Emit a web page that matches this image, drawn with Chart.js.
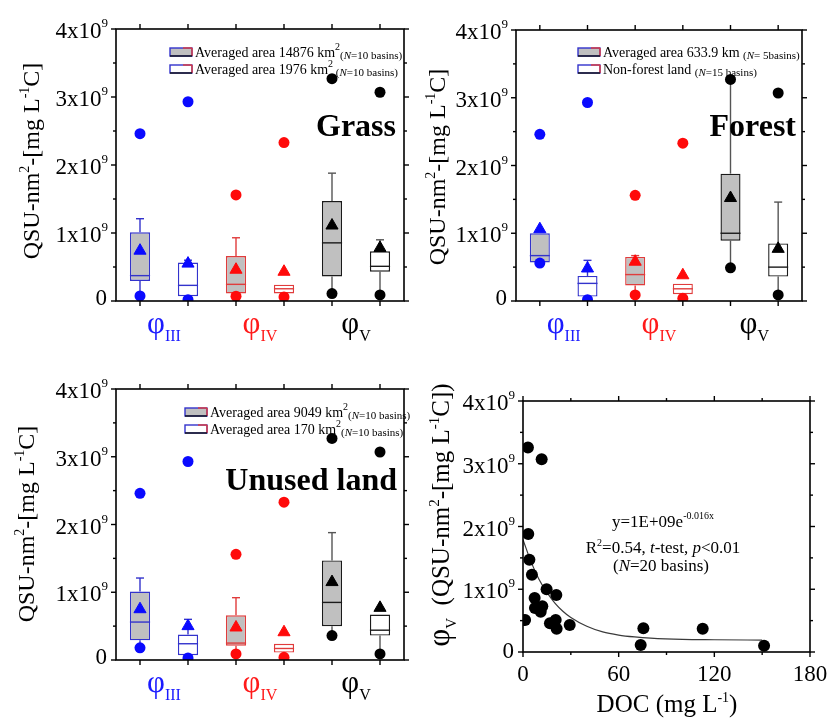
<!DOCTYPE html>
<html><head><meta charset="utf-8">
<script src="https://cdn.jsdelivr.net/npm/chart.js@4.4.0/dist/chart.umd.min.js"></script>
<style>
html,body{margin:0;padding:0;background:#fff;}
#wrap{position:relative;width:828px;height:719px;overflow:hidden;}
.p{position:absolute;}
canvas{display:block;}
</style></head><body>
<div id="wrap">
<div class="p" style="left:0;top:0"><canvas id="c1" width="414" height="350"></canvas></div>
<div class="p" style="left:414px;top:0"><canvas id="c2" width="414" height="350"></canvas></div>
<div class="p" style="left:0;top:360px"><canvas id="c3" width="414" height="359"></canvas></div>
<div class="p" style="left:414px;top:360px"><canvas id="c4" width="414" height="359"></canvas></div>
</div>
<script>
// ---------- data (values in units of 10^9 QSU-nm2-[mg L-1 C]) ----------
const slotLabels = ['φIII large', 'φIII small', 'φIV large', 'φIV small', 'φV large', 'φV small'];
const groupSubs = ['III', 'IV', 'V'];
const groupColors = ['#1a1aff', '#ff1a1a', '#000000'];
const yTickValues = [0, 1, 2, 3, 4];
const yMinorValues = [0.5, 1.5, 2.5, 3.5];

// Grass
const grassQ1 = [0.295, 0.07, 0.11, 0.11, 0.36, 0.43];
const grassQ3 = [1.01, 0.565, 0.66, 0.24, 1.47, 0.73];
const grassMedian = [0.373, 0.23, 0.245, 0.18, 0.855, 0.51];
const grassMean = [0.74, 0.55, 0.46, 0.43, 1.11, 0.78];
const grassWhiskerHi = [1.21, 0.60, 0.93, 0.24, 1.88, 0.90];
const grassMax = [2.46, 2.93, 1.56, 2.33, 3.27, 3.07];
const grassMin = [0.074, 0.02, 0.07, 0.06, 0.11, 0.09];

// Forest
const forestQ1 = [0.57, 0.065, 0.23, 0.10, 0.89, 0.36];
const forestQ3 = [1.0, 0.37, 0.65, 0.255, 1.88, 0.85];
const forestMedian = [0.67, 0.26, 0.39, 0.18, 1.0, 0.50];
const forestMean = [1.06, 0.48, 0.58, 0.38, 1.52, 0.77];
const forestWhiskerHi = [1.0, 0.60, 0.67, 0.255, 3.27, 1.46];
const forestMax = [2.46, 2.93, 1.56, 2.33, 3.27, 3.07];
const forestMin = [0.56, 0.02, 0.09, 0.04, 0.49, 0.09];

// Unused land
const unusedQ1 = [0.29, 0.07, 0.21, 0.11, 0.50, 0.36];
const unusedQ3 = [1.01, 0.375, 0.66, 0.24, 1.47, 0.67];
const unusedMedian = [0.56, 0.24, 0.25, 0.17, 0.85, 0.44];
const unusedMean = [0.75, 0.50, 0.48, 0.41, 1.15, 0.77];
const unusedWhiskerHi = [1.21, 0.60, 0.92, 0.24, 1.88, 0.67];
const unusedMax = [2.46, 2.93, 1.56, 2.33, 3.27, 3.07];
const unusedMin = [0.18, 0.03, 0.09, 0.04, 0.36, 0.09];

// Scatter: DOC (mg L-1) vs phi V
const docValues =  [1.3, 3.1, 11.7, 3.3, 4.0, 5.6, 14.8, 20.9, 7.3, 7.5, 12.1, 11.1, 16.9, 20.5, 21.1, 29.3, 75.5, 73.8, 112.7, 151.2];
const phiVValues = [0.51, 3.26, 3.07, 1.88, 1.47, 1.23, 1.0, 0.91, 0.86, 0.70, 0.73, 0.64, 0.46, 0.51, 0.37, 0.43, 0.38, 0.11, 0.37, 0.10];
// fitted curve
const fitX = [0, 5, 10, 15, 20, 25, 30, 40, 50, 60, 70, 80, 100, 120, 150];
const fitY = [1.79, 1.44, 1.16, 0.95, 0.78, 0.65, 0.55, 0.41, 0.32, 0.27, 0.24, 0.22, 0.20, 0.195, 0.19];
const xTickValues = [0, 60, 120, 180];
const xMinorValues = [30, 90, 150];

// ---------- styles ----------
const SERIF = '"Liberation Serif","Times New Roman",serif';
const slotBorder = ['#3333cc', '#3333cc', '#e03c3c', '#e03c3c', '#1a1a1a', '#1a1a1a'];
const slotFill = ['#c0c0c0', '#ffffff', '#c0c0c0', '#ffffff', '#c0c0c0', '#ffffff'];
const slotDot = ['#0a0aff', '#0a0aff', '#ff0a0a', '#ff0a0a', '#000000', '#000000'];
const slotWhisker = ['#3333cc', '#3333cc', '#e03c3c', '#e03c3c', '#555555', '#555555'];

function fontOf(p) { return (p.i ? 'italic ' : '') + (p.b ? 'bold ' : '') + p.s + 'px ' + SERIF; }
function rich(ctx, parts, x, y, align) {
  let w = 0; const ms = [];
  for (const p of parts) { ctx.font = fontOf(p); const m = ctx.measureText(p.t).width; ms.push(m); w += m; }
  let cx = align === 'center' ? x - w / 2 : (align === 'right' ? x - w : x);
  ctx.textAlign = 'left'; ctx.textBaseline = 'alphabetic';
  parts.forEach((p, i) => { ctx.font = fontOf(p); ctx.fillStyle = p.c || '#000'; ctx.fillText(p.t, cx, y + (p.dy || 0)); cx += ms[i]; });
  return w;
}
function line(ctx, x1, y1, x2, y2) { ctx.beginPath(); ctx.moveTo(x1, y1); ctx.lineTo(x2, y2); ctx.stroke(); }

function yTickLabels(ctx, ys, a, baseNonZero, baseZero) {
  yTickValues.forEach(v => {
    const y = ys.getPixelForValue(v);
    if (v === 0) rich(ctx, [{ t: '0', s: 23 }], a.left - 9, y + baseZero, 'right');
    else rich(ctx, [{ t: v + 'x10', s: 23 }, { t: '9', s: 13, dy: -11 }], a.left - 8, y + baseNonZero, 'right');
  });
}
function yTicksMarks(ctx, ys, a) {
  yTickValues.forEach(v => { const y = ys.getPixelForValue(v); line(ctx, a.left - 5, y, a.left, y); line(ctx, a.right, y, a.right + 5, y); });
  yMinorValues.forEach(v => { const y = ys.getPixelForValue(v); line(ctx, a.left - 3, y, a.left, y); line(ctx, a.right, y, a.right + 3, y); });
}
function yTitle(ctx, parts, cx, cy) {
  ctx.save(); ctx.translate(cx, cy); ctx.rotate(-Math.PI / 2);
  rich(ctx, parts, 0, 8, 'center');
  ctx.restore();
}
const qsuTitle = [{ t: 'QSU-nm', s: 24 }, { t: '2', s: 14, dy: -10 }, { t: '-[mg L', s: 24 }, { t: '-1', s: 14, dy: -10 }, { t: 'C]', s: 24 }];

function boxChart(id, pad, d, deco) {
  const plugin = {
    id: 'boxdeco',
    beforeDatasetsDraw(chart) {
      const ctx = chart.ctx, xs = chart.scales.x, ys = chart.scales.y;
      ctx.save(); ctx.lineWidth = 1.4;
      d.q1.forEach((q, i) => {
        const x = xs.getPixelForValue(i);
        ctx.strokeStyle = slotWhisker[i];
        if (d.whi[i] > d.q3[i] + 0.005) {
          line(ctx, x, ys.getPixelForValue(d.whi[i]), x, ys.getPixelForValue(d.q3[i]));
          line(ctx, x - 4, ys.getPixelForValue(d.whi[i]), x + 4, ys.getPixelForValue(d.whi[i]));
        }
        line(ctx, x, ys.getPixelForValue(d.q1[i]), x, ys.getPixelForValue(d.min[i]));
      });
      ctx.restore();
    },
    afterDatasetDraw(chart, args) {
      if (args.index !== 0) return;
      const ctx = chart.ctx, xs = chart.scales.x, ys = chart.scales.y;
      const meta = chart.getDatasetMeta(0);
      ctx.save(); ctx.lineWidth = 1.4;
      d.median.forEach((m, i) => {
        const x = xs.getPixelForValue(i), hw = meta.data[i].width / 2, y = ys.getPixelForValue(m);
        ctx.strokeStyle = slotBorder[i];
        line(ctx, x - hw, y, x + hw, y);
      });
      ctx.restore();
    },
    afterDraw(chart) {
      const ctx = chart.ctx, a = chart.chartArea, xs = chart.scales.x, ys = chart.scales.y, x2 = chart.scales.x2;
      ctx.save();
      ctx.strokeStyle = '#000'; ctx.lineWidth = 1.6;
      ctx.strokeRect(a.left, a.top, a.right - a.left, a.bottom - a.top);
      ctx.lineWidth = 1.4;
      yTicksMarks(ctx, ys, a);
      slotLabels.forEach((s, i) => { const x = xs.getPixelForValue(i); line(ctx, x, a.bottom, x, a.bottom + 5); line(ctx, x, a.top, x, a.top - 5); });
      yTickLabels(ctx, ys, a, 9, 4);
      // category group labels
      groupSubs.forEach((g, i) => {
        const x = x2.getPixelForValue(i);
        rich(ctx, [{ t: 'φ', s: 31, c: groupColors[i] }, { t: g, s: 16, dy: 8, c: groupColors[i] }], x, a.bottom + 32, 'center');
      });
      // legend
      deco.legend.forEach((row, r) => {
        const cy = deco.legY + r * 17, lx = deco.legX;
        ctx.fillStyle = r === 0 ? '#c0c0c0' : '#ffffff';
        ctx.fillRect(lx, cy - 4, 22, 8);
        ctx.lineWidth = 1.4;
        ctx.strokeStyle = '#3333cc'; ctx.strokeRect(lx, cy - 4, 22, 8);
        ctx.strokeStyle = '#e03c3c'; line(ctx, lx + 22, cy - 4, lx + 22, cy + 4); line(ctx, lx + 13, cy - 4, lx + 22, cy - 4);
        ctx.strokeStyle = '#111'; line(ctx, lx, cy + 4, lx + 22, cy + 4);
        rich(ctx, row, lx + 25, cy + 5, 'left');
      });
      // panel title
      rich(ctx, [{ t: deco.title, s: 32, b: true }], deco.titleX, deco.titleY, 'right');
      yTitle(ctx, qsuTitle, deco.ytX, deco.ytY);
      ctx.restore();
    }
  };
  return new Chart(document.getElementById(id), {
    type: 'bar',
    data: {
      labels: slotLabels,
      datasets: [
        { type: 'bar', data: d.q1.map((v, i) => [v, d.q3[i]]), backgroundColor: slotFill, borderColor: slotBorder, borderWidth: 1.4, borderSkipped: false, barPercentage: 0.42, categoryPercentage: 1, order: 2 },
        { type: 'line', data: d.mean, showLine: false, pointStyle: 'triangle', pointRadius: 7, pointBackgroundColor: slotDot, pointBorderColor: slotDot, pointBorderWidth: 1, order: 1 },
        { type: 'line', data: d.max, showLine: false, pointStyle: 'circle', pointRadius: 5.5, pointBackgroundColor: slotDot, pointBorderColor: slotDot, pointBorderWidth: 0, order: 1 },
        { type: 'line', data: d.min, showLine: false, pointStyle: 'circle', pointRadius: 5.5, pointBackgroundColor: slotDot, pointBorderColor: slotDot, pointBorderWidth: 0, order: 1 }
      ]
    },
    options: {
      responsive: false, animation: false,
      layout: { padding: pad },
      plugins: { legend: { display: false }, tooltip: { enabled: false } },
      scales: {
        x: { type: 'category', display: false, offset: true },
        x2: { type: 'category', labels: groupSubs, display: false, offset: true },
        y: { min: 0, max: 4, display: false }
      }
    },
    plugins: [plugin]
  });
}

const small = (txt) => [{ t: '(', s: 11, dy: 2 }, { t: 'N', s: 11, i: true, dy: 2 }, { t: txt, s: 11, dy: 2 }];

boxChart('c1', { left: 116, right: 10, top: 29, bottom: 49 },
  { q1: grassQ1, q3: grassQ3, median: grassMedian, mean: grassMean, whi: grassWhiskerHi, max: grassMax, min: grassMin },
  { legX: 170, legY: 52, title: 'Grass', titleX: 396, titleY: 136, ytX: 31, ytY: 161,
    legend: [
      [{ t: 'Averaged area 14876 km', s: 14 }, { t: '2', s: 10, dy: -7 }].concat(small('=10 basins)')),
      [{ t: 'Averaged area 1976 km', s: 14 }, { t: '2', s: 10, dy: -7 }, { t: ' ', s: 11 }].concat(small('=10 basins)'))
    ] });

boxChart('c2', { left: 102, right: 26, top: 30, bottom: 49 },
  { q1: forestQ1, q3: forestQ3, median: forestMedian, mean: forestMean, whi: forestWhiskerHi, max: forestMax, min: forestMin },
  { legX: 164, legY: 52, title: 'Forest', titleX: 382, titleY: 136, ytX: 23, ytY: 167,
    legend: [
      [{ t: 'Averaged area 633.9 km ', s: 14 }].concat(small('= 5basins)')),
      [{ t: 'Non-forest land ', s: 14 }].concat(small('=15 basins)'))
    ] });

boxChart('c3', { left: 116, right: 10, top: 29, bottom: 59 },
  { q1: unusedQ1, q3: unusedQ3, median: unusedMedian, mean: unusedMean, whi: unusedWhiskerHi, max: unusedMax, min: unusedMin },
  { legX: 185, legY: 52, title: 'Unused land', titleX: 397, titleY: 130, ytX: 26, ytY: 164,
    legend: [
      [{ t: 'Averaged area 9049 km', s: 14 }, { t: '2', s: 10, dy: -7 }].concat(small('=10 basins)')),
      [{ t: 'Averaged area 170 km', s: 14 }, { t: '2', s: 10, dy: -7 }].concat(small('=10 basins)'))
    ] });
</script>
<script>
// scatter panel
(function () {
  const plugin = {
    id: 'scdeco',
    afterDraw(chart) {
      const ctx = chart.ctx, a = chart.chartArea, xs = chart.scales.x, ys = chart.scales.y;
      ctx.save();
      ctx.strokeStyle = '#000'; ctx.lineWidth = 1.6;
      ctx.strokeRect(a.left, a.top, a.right - a.left, a.bottom - a.top);
      ctx.lineWidth = 1.4;
      yTicksMarks(ctx, ys, a);
      xTickValues.forEach(v => { const x = xs.getPixelForValue(v); line(ctx, x, a.bottom, x, a.bottom + 5); line(ctx, x, a.top, x, a.top - 5); });
      xMinorValues.forEach(v => { const x = xs.getPixelForValue(v); line(ctx, x, a.bottom, x, a.bottom + 3); line(ctx, x, a.top, x, a.top - 3); });
      yTickLabels(ctx, ys, a, 9, 6);
      xTickValues.forEach(v => { rich(ctx, [{ t: String(v), s: 23 }], xs.getPixelForValue(v), a.bottom + 29, 'center'); });
      rich(ctx, [{ t: 'DOC (mg L', s: 25 }, { t: '-1', s: 14, dy: -10 }, { t: ')', s: 25 }], 253, 352, 'center');
      yTitle(ctx, [{ t: 'φ', s: 31 }, { t: 'V', s: 15, dy: 7 }, { t: '  (QSU-nm', s: 25 }, { t: '2', s: 15, dy: -10 }, { t: '-[mg L', s: 25 }, { t: '-1', s: 15, dy: -10 }, { t: 'C])', s: 25 }], 27, 155);
      rich(ctx, [{ t: 'y=1E+09e', s: 17 }, { t: '-0.016x', s: 10, dy: -8 }], 249, 167, 'center');
      rich(ctx, [{ t: 'R', s: 17 }, { t: '2', s: 10, dy: -7 }, { t: '=0.54, ', s: 17 }, { t: 't', s: 17, i: true }, { t: '-test, ', s: 17 }, { t: 'p', s: 17, i: true }, { t: '<0.01', s: 17 }], 249, 193, 'center');
      rich(ctx, [{ t: '(', s: 17 }, { t: 'N', s: 17, i: true }, { t: '=20 basins)', s: 17 }], 247, 211, 'center');
      ctx.restore();
    }
  };
  new Chart(document.getElementById('c4'), {
    type: 'scatter',
    data: {
      datasets: [
        { data: docValues.map((x, i) => ({ x: x, y: phiVValues[i] })), pointRadius: 6, pointBackgroundColor: '#000', pointBorderColor: '#000', pointBorderWidth: 0, order: 1 },
        { type: 'line', data: fitX.map((x, i) => ({ x: x, y: fitY[i] })), showLine: true, borderColor: '#3a3a3a', borderWidth: 1.2, pointRadius: 0, cubicInterpolationMode: 'monotone', fill: false, order: 2 }
      ]
    },
    options: {
      responsive: false, animation: false,
      layout: { padding: { left: 109, right: 18, top: 41, bottom: 67 } },
      plugins: { legend: { display: false }, tooltip: { enabled: false } },
      scales: {
        x: { type: 'linear', min: 0, max: 180, display: false },
        y: { min: 0, max: 4, display: false }
      }
    },
    plugins: [plugin]
  });
})();
</script>
</body></html>
